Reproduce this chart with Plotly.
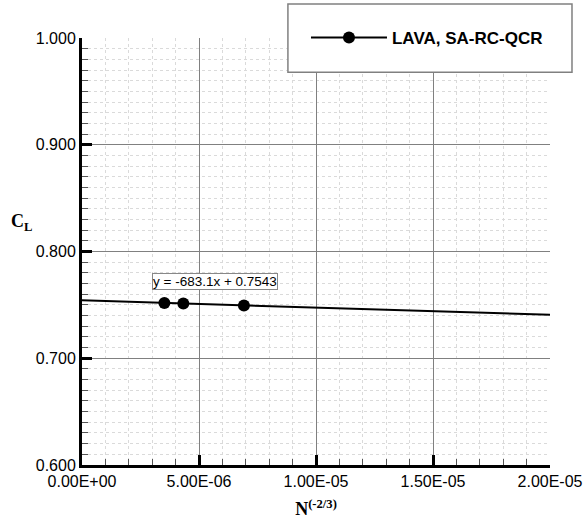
import plotly.graph_objects as go

x_vals = [3.52e-6, 4.33e-6, 6.92e-6]
cl_vals = [0.7518, 0.7513, 0.7494]
slope = -683.1
intercept = 0.7543
fit_x = [0.0, 2.0e-5]
fit_y = [intercept + slope * v for v in fit_x]
x_ticks = [0, 5e-6, 1e-5, 1.5e-5, 2e-5]
x_tick_text = ["0.00E+00", "5.00E-06", "1.00E-05", "1.50E-05", "2.00E-05"]
y_ticks = [0.6, 0.7, 0.8, 0.9, 1.0]
series_name = "LAVA, SA-RC-QCR"

fig = go.Figure()
fig.add_trace(go.Scatter(x=fit_x, y=fit_y, mode="lines",
                         line=dict(color="black", width=2), showlegend=False, hoverinfo="skip"))
fig.add_trace(go.Scatter(x=x_vals, y=cl_vals, mode="markers",
                         marker=dict(color="black", size=12), showlegend=False))
fig.add_trace(go.Scatter(x=[None], y=[None], mode="lines+markers", name=series_name,
                         line=dict(color="black", width=2), marker=dict(color="black", size=12)))

font = "Liberation Sans, Arial, sans-serif"
serif = "Liberation Serif, Times New Roman, serif"
fig.update_layout(
    width=586, height=520,
    margin=dict(l=82, r=36, t=38, b=55, autoexpand=False),
    paper_bgcolor="white", plot_bgcolor="white",
    font=dict(family=font, size=16, color="black"),
    showlegend=True,
    legend=dict(x=0.4786, y=1.0, xanchor="left", yanchor="middle",
                xref="paper", yref="paper",
                bgcolor="rgba(0,0,0,0)", borderwidth=0,
                font=dict(family=font, size=17, color="black", weight="bold"),
                itemwidth=76),
    xaxis=dict(range=[0, 2e-5], tickvals=x_ticks, ticktext=x_tick_text,
               ticks="inside", ticklen=10, tickwidth=3, tickcolor="black",
               showline=True, linecolor="black", linewidth=3,
               showgrid=True, gridcolor="#808080", gridwidth=1,
               zeroline=False,
               tickfont=dict(family=font, size=16),
               minor=dict(dtick=1e-6, tick0=0, ticks="inside", ticklen=6, tickwidth=1,
                          tickcolor="#555555", showgrid=True, gridcolor="#dadada",
                          griddash="dot", gridwidth=1),
               title=dict(text="<b>N<sup>(-2/3)</sup></b>",
                          font=dict(family=serif, size=18),
                          standoff=14)),
    yaxis=dict(range=[0.6, 1.0], tickvals=y_ticks, tickformat=".3f",
               ticks="inside", ticklen=10, tickwidth=3, tickcolor="black",
               showline=True, linecolor="black", linewidth=3,
               showgrid=True, gridcolor="#808080", gridwidth=1,
               zeroline=False,
               tickfont=dict(family=font, size=16),
               minor=dict(dtick=0.01, tick0=0.6, ticks="inside", ticklen=6, tickwidth=1,
                          tickcolor="#555555", showgrid=True, gridcolor="#dadada",
                          griddash="dot", gridwidth=1)),
    shapes=[
        dict(type="rect", xref="paper", yref="paper", x0=0.440, x1=1.047, y0=0.920, y1=1.0796,
             line=dict(color="#808080", width=1.5), fillcolor="white", layer="above"),
    ],
    annotations=[
        dict(x=5.68e-6, y=0.7719, xref="x", yref="y",
             text="y = -683.1x + 0.7543", showarrow=False,
             font=dict(family=font, size=13.5, color="black"),
             bgcolor="white", bordercolor="#888888", borderwidth=1, borderpad=0),
        dict(x=-0.1026, y=0.567, xref="paper", yref="paper", xanchor="right", yanchor="middle",
             text="<b>C<sub>L</sub></b>", showarrow=False,
             font=dict(family=serif, size=18, color="black")),
    ],
)

fig.write_html("out.html", config={"displayModeBar": False},
               post_script="document.body.style.margin='0';")
